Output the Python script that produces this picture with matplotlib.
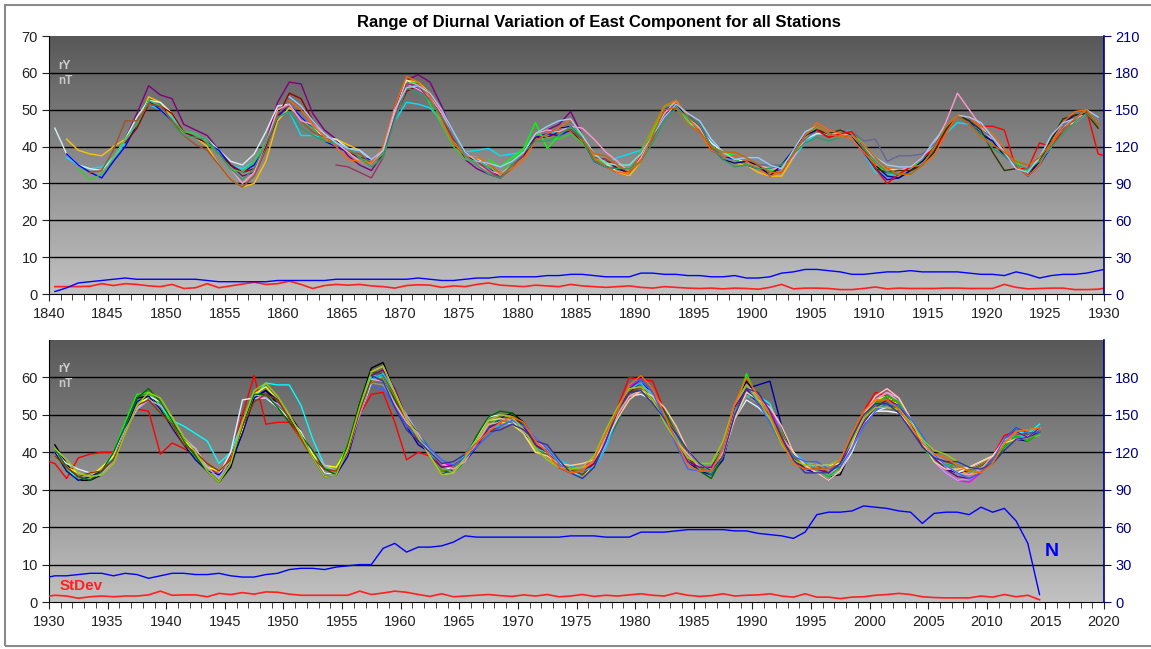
import numpy as np
import matplotlib
matplotlib.use("Agg")
import matplotlib.pyplot as plt
from matplotlib.ticker import MultipleLocator
from matplotlib.colors import LinearSegmentedColormap
from matplotlib.patches import Rectangle

plt.rcParams['font.family'] = ['Liberation Sans', 'DejaVu Sans']

# annual values, first point at 1840.5, one per year up to 2014.5
first_year = 1840.5

# typical (bundle centre) range of the east component, nT
mean_range = [
    44, 39, 36, 34, 33.5, 37, 41, 46, 52.5, 51,
    48, 44, 42.5, 41, 38, 35, 33, 35, 41, 49,
    51.5, 48, 45, 42.5, 41, 38.5, 37, 35.5, 39, 49,
    57, 56.5, 53.5, 48, 42, 37.5, 36, 34.5, 32.5, 35,
    38.5, 42.5, 43.5, 44, 45.5, 42, 37, 35.5, 34, 33,
    37, 43, 49, 51.5, 48, 45, 40, 37.5, 36.5, 36,
    35, 34, 34, 38, 42, 44.5, 43.5, 43.5, 43, 39.5,
    35, 33, 33.5, 34.5, 36, 39.5, 44.5, 48.5, 47, 44.5,
    41.5, 38.5, 35, 33, 36, 41, 45.5, 47.5, 49, 46,
    40, 36, 33.5, 33.5, 35, 39, 46, 52.5, 54, 51.5,
    47.5, 43, 40, 36, 34, 38, 47, 54.5, 55.5, 53,
    49, 44.5, 39.5, 35.5, 35, 41, 51, 59.5, 60, 54,
    48, 44, 40, 36, 35.5, 38.5, 42.5, 46.5, 48, 48.5,
    46, 42, 40, 37, 35.5, 35, 37, 43, 50, 56,
    57.5, 55, 50, 44, 38.5, 36, 35, 40, 51, 57,
    54, 50, 44, 39, 36.5, 35.5, 34.5, 36, 42, 49,
    53, 54, 52.5, 48, 42.5, 38.5, 36.5, 35.5, 35, 35.5,
    38, 42.5, 44.5, 44, 45.5,
]

# standard deviation between stations, nT
stdev = [
    2.0, 2.0, 2.0, 2.1, 2.8, 2.3, 2.8, 2.6, 2.2, 2.0,
    2.6, 1.5, 1.7, 2.8, 1.7, 2.2, 2.7, 3.2, 2.6, 2.8,
    3.5, 2.6, 1.5, 2.3, 2.6, 2.4, 2.6, 2.2, 2.0, 1.6,
    2.3, 2.5, 2.4, 1.8, 2.2, 2.0, 2.6, 3.0, 2.4, 2.2,
    2.0, 2.4, 2.2, 2.0, 2.6, 2.2, 2.0, 1.8, 2.0, 2.2,
    1.8, 1.6, 2.0, 1.8, 1.6, 1.5, 1.6, 1.4, 1.6, 1.5,
    1.3, 1.8, 2.6, 1.4, 1.6, 1.6, 1.5, 1.2, 1.2, 1.5,
    1.9, 1.4, 1.6, 1.5, 1.5, 1.5, 1.6, 1.6, 1.5, 1.5,
    1.5, 2.6, 1.8, 1.4, 1.5, 1.6, 1.6, 1.2, 1.2, 1.3,
    1.8, 1.6, 1.0, 1.4, 1.6, 1.4, 1.6, 1.6, 1.9, 2.9,
    1.8, 1.9, 1.9, 1.4, 2.3, 2.0, 2.5, 2.1, 2.7, 2.6,
    2.1, 1.8, 1.8, 1.8, 1.8, 1.8, 2.9, 2.0, 2.4, 2.9,
    2.6, 2.0, 1.5, 2.2, 1.4, 1.6, 1.8, 2.0, 1.7, 1.5,
    1.9, 1.6, 2.0, 1.4, 1.6, 2.0, 1.5, 1.8, 1.6, 1.9,
    2.2, 1.8, 1.6, 2.4, 1.8, 1.5, 1.7, 2.2, 1.6, 1.8,
    1.9, 2.2, 1.6, 1.3, 2.2, 1.3, 1.3, 0.9, 1.3, 1.4,
    1.8, 2.0, 2.3, 2.0, 1.4, 1.2, 1.1, 1.1, 1.1, 1.6,
    1.3, 2.0, 1.4, 1.8, 0.6,
]

# number of stations (right axis)
n_stations = [
    2, 5, 9, 10, 11, 12, 13, 12, 12, 12,
    12, 12, 12, 11, 10, 10, 10, 10, 10, 11,
    11, 11, 11, 11, 12, 12, 12, 12, 12, 12,
    12, 13, 12, 11, 11, 12, 13, 13, 14, 14,
    14, 14, 15, 15, 16, 16, 15, 14, 14, 14,
    17, 17, 16, 16, 15, 15, 14, 14, 15, 13,
    13, 14, 17, 18, 20, 20, 19, 18, 16, 16,
    17, 18, 18, 19, 18, 18, 18, 18, 17, 16,
    16, 15, 18, 16, 13, 15, 16, 16, 17, 19,
    21, 21, 22, 23, 23, 21, 23, 22, 19, 21,
    23, 23, 22, 22, 23, 21, 20, 20, 22, 23,
    26, 27, 27, 26, 28, 29, 30, 30, 43, 47,
    40, 44, 44, 45, 48, 53, 52, 52, 52, 52,
    52, 52, 52, 52, 53, 53, 53, 52, 52, 52,
    56, 56, 56, 57, 58, 58, 58, 58, 57, 57,
    55, 54, 53, 51, 56, 70, 72, 72, 73, 77,
    76, 75, 73, 72, 63, 71, 72, 72, 70, 76,
    72, 75, 65, 47, 6,
]

# individual stations: first year and departure from the bundle centre (nT)
station_start = {
    'st01': 1845.5, 'st02': 1841.5, 'st03': 1841.5, 'st04': 1840.5,
    'st05': 1841.5, 'st06': 1846.5, 'st07': 1842.5, 'st08': 1877.5,
    'st09': 1843.5, 'st10': 1855.5, 'st11': 1864.5, 'st12': 1896.5,
    'st13': 1880.5, 'st14': 1905.5, 'st15': 1905.5,
    'st16': 1860.5, 'st17': 1850.5, 'st18': 1860.5, 'st19': 1885.5,
    'st20': 1930.5, 'st21': 1930.5, 'st22': 1930.5, 'st23': 1930.5,
    'st24': 1957.5, 'st25': 1930.5, 'st26': 1930.5, 'st27': 1957.5,
    'st28': 1957.5, 'st29': 1930.5, 'st30': 1930.5, 'st31': 1957.5,
    'st32': 1930.5, 'st33': 1957.5, 'st34': 1957.5, 'st35': 1957.5,
    'st36': 1995.5, 'st37': 1995.5, 'st38': 1957.5,
    'st44': 1957.5, 'st45': 1957.5, 'st46': 1930.5, 'st47': 1957.5,
    'st48': 1965.5,
}

station_dev = {
    'st01': "0 1 3 4 3 5 2 2 2 1  0 -1 -2 0 3 6 9 4 2 1  -1 -2 -2 -1 2 1 3 4 3 1"
            " -1 -2 -2 -1 -1 0 1 1 2 4  1 0 -1 -1 -1",
    'st02': "3 3 4 4 3 1 0 1 1 0  -1 0 -1 -3 -4 -4 -5 -5 -2 -1  0 0 -1 1 2 2 1 0 0 1"
            " 1 1 1 0 0 0 0 -1 -1 0  0 0 1 0 -1 0 0 -1 -1 -1  0 0 1 -1 -1 0 -1 -1 -1 -2"
            " -2 -2 -1",
    'st03': "-2 -1 0 1 0 0 0 -1 -1 0  0 1 0 0 0 1 1 0 -1 -2  -5 -2 0 0 0 0 0 -1 -2 -5"
            " -5 -3 -1 0 1 3 5 5 3 0  0 0 0 0 1 1 0 3 5 2  1 0 -1 -2 0 1 1 1 0 0"
            " 0 0 -1 -1 -1 0 0 0 -1 -2  -1 0 -1 -1 0 -1 -2 -1 -1 0  0 0 0 -1 -1 0 0 0 0",
    'st04': "1 -1 -1 0 0 0 1 2 0 1  1 0 0 1 1 1 2 3 3 2  0 0 0 0 1 1 2 1 0 0"
            " 1 0 -1 0 0 0 1 0 0 0  0 -1 0 1 0 0 1 0 -1 0  0 1 1 0 -1 0 1 1 0 0"
            " -1 0 0 1 0 -1 0 1 1 0  0 1 0 -1 0 0 1 0 -1 0  1 0 -1 0 1 1 0 -1 0 1",
    'st05': "-1 -1 -1 -2 -1 -1 0 0 -1 -1  0 0 0 1 0 0 0 -1 -1 0  0 0 -1 -1 0 0 1 0 0 0"
            " -1 0 0 0 1 0 0 -1 0 0  0 0 -1 -1 0 0 1 0 0 0  0 1 0 0 -1 0 0 0 -1 -1"
            " -1 0 0 1 0 0 0 0 -1 -1  -2 -2 -1 -1 -1 0 0 0 -1 0  0 0 -1 -1 -1 -1 0 0",
    'st06': "0 -1 -1 0 1 0 0 0 0 0  0 -1 -1 -1 3 5 2 1 0 0  0 0 -1 -1 -2 0 1 0 -1 0"
            " 0 1 0 0 -1 0 -1 0 -1 -1  0 1 0 0 1 0 0 -1 0 0  -1 0 1 0 0 -1 0 0 1 0"
            " -1 0 0 1 0 0 -1 0 0 1",
    'st07': "-2 -3 -1 0 1 0 0 0 -1 0  1 0 0 -1 0 1 0 0 0 -1  0 -1 0 1 0 0 -1 0 0 1"
            " -2 -2 -2 -1 0 0 0 1 1 1  -1 -2 -2 -1 0 0 1 0 2 2  2 0 -1 0 0 1 0 -1 0 0"
            " 0 1 0 1 0 1 0 0 -1 1",
    'st08': "2 2 2 1 4 -4 -1 0 1 0  0 1 2 1 1 2 1 0 0 0  1 1 0 0 -1 1 0 0 1 0"
            " 0 1 1 0 0 -1 0 0 1 1  0 1 1 0 0 1 0 0 -1 0  0 1 0",
    'st09': "-1 0 2 6 1 -1 0 -1 -1 -2  -2 -3 -4 -4 -3 -2 0 0 -1 -1  0 0 0 1 0 0 -1 -1 0 1"
            " 1 0 0 -1 -1 -1 -1 0 1 1  0 -1 0 0 1 1 0 0 -1 0  0 1 0 0 0 1 0 0",
    'st10': "-1 -3 -2 0 1 0 -1 1 1 0  0 -1 0 0 0 0 -1 0 1 1  0 -1 -1 0 0 0 1 1 0 0"
            " 3 5 3 2 0 0 0 0 1 0  0 0 0 1 0 0 0 0 -1 0  0 0 0 0 1 1 0 0 0 1"
            " 1 2 6 3 1 0 0 0 1 0  -1 0 0 0 0",
    'st11': "-6 -4 -4 -4 -2 -1 0 0 -1 0  0 1 0 -1 -1 0 -1",
    'st12': "0 0 1 0 0 1 1 1 0 0  0 1 1 2 7 3 4 3 2 1  0 0 -1 0 1 0 0 -1 0 0  0 1 0 1",
    'st13': "0 -1 0 1 0 0 -1 -1 0 0  1 0 -1 0 0 1 0 -1 -1 0  0 -2 1 1 1 0 0 -1 0 -1"
            " 0 -1 -2 -1 0 0 1 0 -1 -1  0 -1 0 -1 0 1 1 1 0 0",
    'st14': "0 0 1 0 0 -1 0 0 -1 -1  -1 0 0 0 0 -3 -5 -1 0 0  1 2 1 0 -1",
    'st15': "0 -1 0 1 0  -1 -3 -1 0 1 0 -1 0 1 1  4 6 -1 1 5 -1 -1 0 1 -8"
            " -3 -3 5 6 5 1 0 -1 -3 -12  -5 -2 -1 0 0 1 3 6 -8 -5"
            " -1 -1 0 0 1 1 -1 -4 -4 -6  -10 -4 -1 0 1 0 -1 0 1 0"
            " 1 0 -1 0 1 0 -1 0 2 4  2 4 1 0 -1 0 1 -1 0 1"
            " 0 1 0 -1 0 1 0 -1 1 2  3 1 0 -1 0 0 1 0 -1 0  1 2 1 0 1",
    'st16': "1 2 1 0 -1 -2 -1 0 1 2  2 1 0 -1 -1 0 1 1 0 -1  -2 -1 0 1 2 1 0 -1 -1 0"
            " 1 2 2 1 0 -1 -1 0 1 0  -1 -2 -1 0 1 2 1 0 -1 -1  0 1 1 0 -1 -2 -1 0 1 1"
            " 2 1 0 -1 -1 0 1 2 1 0",
    'st17': "-2 -1 0 1 0 -1 -2 -1 0 -1  -2 -3 -2 -1 0 1 0 -1 -2 -2  -1 -2 -1 0 1 0 -1 -2 -1 0"
            " 0 -1 -2 -1 0 0 -1 -1 0 1  -1 -2 -2 -1 0 1 0 -1 -2 -1  -1 0 1 0 -1 -2 -2 -1 0 0"
            " 1 0 -1 -2 -1 0 1 0 -1 -1  -2 -1 0 1 0 -1 -2 -1 0 0",
    'st18': "2 3 2 1 0 1 2 1 0 1  -1 0 1 2 2 1 0 1 2 1  0 1 2 3 2 1 1 0 1 2"
            " 1 0 -1 0 1 2 2 1 0 1  2 1 0 1 2 1 0 -1 0 1  2 2 1 0 1 2 1 0 1 2"
            " 1 0 -1 0 1 2 1 0 1 2",
    'st19': "0 1 2 1 0 -1 0 1 -1 -2  -1 0 1 2 1 0 -1 -1 0 1  1 0 -1 0 1 2 1 -1 -2 -1"
            " 0 1 0 -1 -2 -1 0 1 2 1  0 -1 0 1 0",
    'st20': "2 1 -1 -1 -1 0 1 2 1 1  0 1 0 -1 -2 -2 -1 0 1 0  1 1 0 -1 -1 0 2 3 4 2"
            " 1 0 -1 -2 0 1 1 2 1 2  2 1 0 -1 0 1 0 -1 0 1  0 -1 0 1 1 0 -1 0 1 2"
            " 1 0 -1 0 1 0 -1 -2 -1 0  -1 0 1 0 0 -1 0 1 0 1  0 1 2 1 0",
    'st21': "0 -1 0 1 0 1 2 3 2 1  0 -1 -1 0 -1 0 1 1 0 -1  0 0 -1 0 1 1 0 1 2 1"
            " 0 -1 0 1 0 -1 0 1 1 0  -1 0 1 1 0 0 -1 0 -1 0  1 1 -1 0 0 1 2 1 0 4"
            " 0 1 0 -1 -1 0 1 2 1 0  -1 -1 0 1 1 0 0 -1 -1 0  1 0 -1 0 -1",
    'st22': "1 0 -1 0 -1 0 1 1 0 1  1 4 5 7 3 2 1 0 3 5  9 8 4 1 0 -1 0 1 0 -1"
            " 0 1 0 -1 -1 0 1 2 1 0  -1 0 1 0 -1 -1 0 -1 0 1  0 1 0 -1 0 1 0 -1 -1 -2"
            " 1 3 1 0 1 0 -1 0 1 0  -1 0 1 1 0 -1 0 1 0 -1  0 0 1 1 2",
    'st23': "0 1 2 1 0 1 0 -1 1 2  1 0 0 -1 0 2 7 0 -1 -1  0 1 0 -1 -1 0 -1 -1 0 1"
            " 1 0 -1 0 0 -1 1 3 2 1  0 -1 0 1 0 1 0 0 1 -1  -2 -1 0 1 0 -1 0 1 -2 -3"
            " -2 -1 0 1 0 0 -1 -1 -2 -1  -2 -2 -1 0 1 0 -1 0 1 0  -1 0 -1 0 1",
    'st24': "1 2 1  0 -1 0 1 1 0 0 1 0 -1  0 1 0 -1 0 1 1 0 1 2  1 0 1 0 -1 -1 0 1 2 1"
            " 1 2 1 0 -1 0 0 1 0 1  2 3 2 1 0 -1 -2 -3 -3 -1  0 1 1 0 1",
    'st25': "-1 0 1 0 1 0 -1 0 1 0  -1 0 1 0 1 0 -1 1 2 1  0 -1 0 1 1 0 -1 0 1 0"
            " -1 0 1 0 -1 -1 0 1 0 -1  -1 -2 0 1 -1 -2 0 1 1 0  1 0 -1 0 1 0 -1 0 1 0"
            " -1 0 1 1 0 -1 0 1 0 0  1 1 0 -1 0 1 0 -1 0 0  1 0 -1 0 0",
    'st26': "0 -1 -1 0 0 -1 0 1 1 0  -1 -1 -2 -1 0 -1 -2 0 1 1  0 0 -1 -2 -1 -2 -1 0 1 0"
            " -1 -2 0 1 0 -1 -1 0 1 0  -1 0 0 -1 -1 0 -1 0 -1 0  1 1 0 -1 -1 -1 -1 -2 -1 0"
            " 4 9 3 0 -1 -1 -2 -1 0 1  0 -1 -1 -1 0 0 -1 -1 0 0  1 0 -1 -1 0",
    'st27': "2 1 0  1 0 -1 0 1 0 -1 0 -1 0  1 0 -1 -1 0 1 0 -1 0 1  0 1 0 -1 -1 0 1 0 -1 -1"
            " 0 -1 -1 0 1 1 0 1 0 0  1 0 1 1 0 0 1 0 -1 -1  0 -1 0 -1 0",
    'st28': "-1 0 -1  0 1 1 0 -1 -1 0 0 1 1  1 0 -1 0 1 0 1 -1 -2 -1  -1 0 1 1 0 0 -1 -1 0 -1"
            " -1 0 1 0 -1 0 1 0 1 1  0 -1 -1 0 1 1 0 0 0 1  -1 -1 0 1 0",
    'st29': "1 2 1 0 -1 -1 0 -1 0 1  2 1 1 0 -1 0 1 1 -1 0  1 0 1 1 0 -1 -1 0 0 1"
            " 2 1 0 1 0 0 -1 0 -1 0  1 2 1 0 -1 0 -1 -1 0 1  2 1 0 0 -1 0 1 0 -1 1"
            " 0 1 0 -1 0 1 0 -1 -1 0  1 2 2 1 0 -1 -2 -3 -2 -1  0 1 0 0 1",
    'st30': "1 0 0 -1 0 1 1 2 3 2  1 0 -1 -1 -2 -1 0 1 0 -1  -1 0 1 0 -1 1 2 2 1 0"
            " 1 1 0 -1 -1 0 2 3 3 2  1 0 0 -1 0 -1 0 1 0 0  -1 0 1 1 0 -1 -2 -1 0 0"
            " -1 0 1 0 -1 0 1 0 0 -1  0 -1 0 1 0 -1 0 1 0 0  -1 -1 0 -1 0",
    'st31': "-1 -2 -1  0 0 1 0 -1 0 1 0 -1 -1  0 0 1 1 0 0 -1 0 -1 -1  -1 -2 -1 0 0 1 0 -1 -2 -2"
            " -1 -1 0 0 0 -1 -1 -1 0 -1  -1 -2 -1 -1 0 1 1 0 0 0  -1 0 1 0 -1",
    'st32': "-1 0 0 1 0 -1 -1 0 0 -1  0 -1 0 1 1 0 0 -1 0 1  0 -1 -1 0 0 -1 0 0 1 1"
            " 0 -1 0 0 1 0 0 -1 -1 0  0 1 1 0 0 -1 0 0 -1 0  0 -1 0 1 0 0 1 0 0 -1"
            " 0 -1 -1 0 0 1 0 0 1 0  0 1 1 0 -1 0 1 1 0 1  0 1 0 1 0",
    'st33': "0 1 2  1 0 0 -1 0 1 1 0 -1 0  0 -1 0 1 1 0 -1 -2 0 1  1 0 -1 0 0 1 0 1 0 -1"
            " 0 -1 0 1 1 0 -1 0 1 0  0 -1 0 -1 1 0 0 1 0 -1  0 1 0 0 1",
    'st34': "-1 0 1  1 0 -1 -1 0 0 0 1 2 1  0 -1 -1 0 0 0 1 0 0 -1  -1 -1 0 1 1 0 0 -1 -1 0"
            " 1 0 1 0 0 0 1 1 0 0  0 0 1 1 0 -1 0 0 0 1  1 0 -1 0 0",
    'st35': "0 -1 -1  0 1 0 1 0 -1 0 1 0 1  0 1 1 0 -1 0 1 1 0 -1  -1 0 0 -1 1 0 1 0 1 1"
            " 1 0 0 1 0 -1 0 0 1 1  1 2 1 0 -1 0 0 -1 -1 0  1 1 -1 0 1",
    'st36': "0 -1 0 1 1 0 1 1 0 -1  -1 0 1 0 -1 0 -1 0 -1 0",
    'st37': "1 2 1 0 -1 -2 -3 -2 -1 0  1 0 -1 1 2 1 0 1 0 1",
    'st38': "1 2 3  1 0 -1 0 1 0 -1 0 0 1  1 0 0 -1 -1 0 0 0 1 1  2 1 0 -1 -1 0 1 1 1 0"
            " -1 0 0 -1 -1 0 0 1 0 -1  -1 0 0 0 -1 0 -1 -2 -2 -1  0 0 1 0 0",
    'st44': "2 3 2  1 0 -1 -2 -1 0 1 2 1 0  -1 -2 -1 0 1 2 1 0 -1 -2  -1 0 2 3 2 1 0 -1 -2 -1"
            " 0 2 3 1 0 -1 -2 -1 0 1  2 3 2 1 0 -1 -1 0 1 2  1 0 -1 0 1",
    'st45': "-2 -3 -2  -1 0 1 2 1 0 -1 -2 -1 0  1 2 1 0 -1 -2 -1 0 1 2  2 1 -1 -2 -3 -1 0 1 2 1"
            " -1 -2 -2 0 1 2 1 0 -1 -2  -2 -1 0 1 2 1 0 -1 -2 -1  0 1 2 1 0",
    'st46': "1 2 1 0 -1 -2 -1 0 2 3  2 1 0 -1 -2 -1 1 2 3 2  1 0 -1 -2 -1 0 1 2 3 2"
            " 1 0 -1 -2 -1 0 1 2 2 1  0 -1 -2 -1 0 1 2 3 2 1  0 -1 -2 -1 0 1 2 3 2 1"
            " 0 -1 -2 -1 0 1 2 2 1 0  -1 -2 -1 0 1 2 3 2 1 0  -1 0 1 2 1",
    'st47': "1 -1 -2  -2 -1 0 1 2 1 0 -1 -2 -1  0 1 2 1 -1 -2 -1 0 1 0  -1 -2 -1 1 2 1 0 -1 -1 0"
            " 2 1 0 -1 -2 -1 0 1 2 1  0 -1 -2 -2 -1 0 1 2 1 0  -1 -2 -1 0 1",
    'st48': "1 0 -1 0 1 2 1 0 -1 -1  0 1 2 1 2 3 2 0 -1 -2  -1 0 1 2 3 1 0 -1 -2 -1"
            " 0 1 2 3 2 1 0 -1 -1 0  1 2 1 0 -1 -1 0 1 2 1",
}

station_color = {
    'st01': '#800080', 'st02': '#FFC000', 'st03': '#00E0FF', 'st04': '#D8F0F0',
    'st05': '#0000FF', 'st06': '#990000', 'st07': '#33CC33', 'st08': '#00FF00',
    'st09': '#A0522D', 'st10': '#FF99CC', 'st11': '#993366', 'st12': '#666699',
    'st13': '#000080', 'st14': '#333300', 'st15': '#FF0000',
    'st16': '#FF6600', 'st17': '#339966', 'st18': '#99CCFF', 'st19': '#CC6600',
    'st20': '#000000', 'st21': '#00FF00', 'st22': '#00FFFF', 'st23': '#E0F0FF',
    'st24': '#FF00FF', 'st25': '#FFFF00', 'st26': '#0000A0', 'st27': '#FF9900',
    'st28': '#008080', 'st29': '#CC99FF', 'st30': '#006600', 'st31': '#969696',
    'st32': '#993300', 'st33': '#00CCFF', 'st34': '#808000', 'st35': '#FF99CC',
    'st36': '#00CC00', 'st37': '#FFFFFF', 'st38': '#800080',
    'st44': '#FFCC99', 'st45': '#3366FF', 'st46': '#99CC00', 'st47': '#333399',
    'st48': '#FF6600',
}

title = "Range of Diurnal Variation of East Component for all Stations"

mean_range = np.array(mean_range, float)
years = first_year + np.arange(len(mean_range))

W, H = 1151, 649
fig = plt.figure(figsize=(W / 100, H / 100), dpi=100)
bg = LinearSegmentedColormap.from_list('bg', ['#585858', '#c2c2c2'])


def panel(rect, x0, x1, left_ticks, right_ticks):
    ax = fig.add_axes(rect)
    ax.imshow(np.linspace(0, 1, 256).reshape(-1, 1), cmap=bg, extent=[x0, x1, 0, 70],
              aspect='auto', origin='upper', zorder=0, interpolation='bilinear')
    ax.set_xlim(x0, x1)
    ax.set_ylim(0, 70)
    for v in range(10, 70, 10):
        ax.axhline(v, color='black', lw=1.0, zorder=1)
    for s in ['top', 'right']:
        ax.spines[s].set_visible(False)
    ax.spines['left'].set_color('black')
    ax.spines['bottom'].set_color('black')
    ax.xaxis.set_major_locator(MultipleLocator(5))
    ax.xaxis.set_minor_locator(MultipleLocator(1))
    ax.set_yticks(left_ticks)
    ax.tick_params(axis='x', which='major', length=5, labelsize=10.5, colors='#222222', pad=4)
    ax.tick_params(axis='x', which='minor', length=4, color='#222222')
    ax.tick_params(axis='y', length=5, labelsize=10.5, colors='#222222', pad=3)

    for key in station_dev:
        dev = np.array(station_dev[key].split(), float)
        i0 = int(round(station_start[key] - first_year))
        seg = mean_range[i0:i0 + len(dev)]
        dev = dev[:len(seg)]
        ax.plot(years[i0:i0 + len(seg)], seg + dev, color=station_color[key],
                lw=1.0, zorder=3, clip_on=True)

    ax.plot(years, stdev, color='#FF2020', lw=1.2, zorder=4)

    tw = ax.twinx()
    tw.set_ylim(0, 210)
    tw.set_yticks(right_ticks)
    for s in ['top', 'left', 'bottom']:
        tw.spines[s].set_visible(False)
    tw.spines['right'].set_color('#000080')
    tw.spines['right'].set_linewidth(1.2)
    tw.tick_params(axis='y', length=5, labelsize=10.5, colors='#000080', pad=3)
    tw.plot(years, n_stations, color='#0000FF', lw=1.0, zorder=4)
    return ax


ax_top = panel([49 / W, 1 - 294 / H, 1055 / W, 258 / H], 1840, 1930,
               range(0, 71, 10), range(0, 211, 30))
ax_bot = panel([49 / W, 1 - 602 / H, 1055 / W, 262 / H], 1930, 2020,
               range(0, 61, 10), range(0, 181, 30))

fig.text(599 / W, 1 - 22 / H, title, ha='center', va='center', fontsize=12, weight='bold')

for y0 in (66, 369):
    fig.text(58 / W, 1 - y0 / H, 'rY', ha='left', va='center', fontsize=8.5,
             weight='bold', color='#d0d0d0')
    fig.text(58 / W, 1 - (y0 + 15) / H, 'nT', ha='left', va='center', fontsize=8.5,
             weight='bold', color='#c8c8c8')

fig.text(60 / W, 1 - 586 / H, 'StDev', ha='left', va='center', fontsize=11,
         weight='bold', color='#FF2020')
fig.text(1052 / W, 1 - 551 / H, 'N', ha='center', va='center', fontsize=14,
         weight='bold', color='#0000FF')

fig.patches.append(Rectangle((5 / W, 3 / H), 1.2, 641 / H, transform=fig.transFigure,
                             fill=False, edgecolor='#8a8a8a', lw=1.5))

fig.savefig('out.png', dpi=100)
